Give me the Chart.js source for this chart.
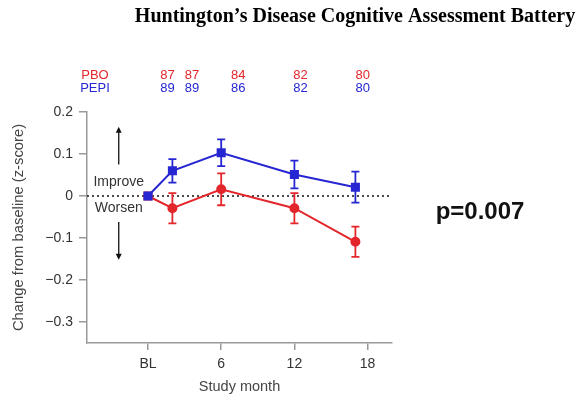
<!DOCTYPE html>
<html>
<head>
<meta charset="utf-8">
<script src="https://cdn.jsdelivr.net/npm/chart.js@4.4.0/dist/chart.umd.min.js"></script>
<style>
  body { margin: 0; background: #fff; }
  canvas { display: block; }
</style>
</head>
<body>
<canvas id="hdChart" width="583" height="399"></canvas>
<script>
// study visits (months) and mean change from baseline
const months = [0, 2, 6, 12, 17];
const pboMean = [0, -0.029, 0.016, -0.029, -0.109];
const pboErr = [0, 0.036, 0.038, 0.036, 0.036];
const pepiMean = [0, 0.06, 0.103, 0.051, 0.021];
const pepiErr = [0, 0.028, 0.032, 0.033, 0.037];

// number of subjects shown above the plot
const countMonths = [1.6, 3.6, 7.4, 12.5, 17.6];
const pboCounts = [87, 87, 84, 82, 80];
const pepiCounts = [89, 89, 86, 82, 80];

const xTicks = [0, 6, 12, 18];
const xTickLabels = ['BL', '6', '12', '18'];
const yTicks = [0.2, 0.1, 0, -0.1, -0.2, -0.3];
const yTickLabels = ['0.2', '0.1', '0', '\u22120.1', '\u22120.2', '\u22120.3'];

const RED = '#e3262b';
const BLUE = '#2626d2';
const SANS = "'Liberation Sans', Arial, sans-serif";

function toPoints(ys) {
  return months.map((m, i) => ({ x: m, y: ys[i] }));
}

// dotted zero line + error bars, under the markers
const errorBars = {
  id: 'errorBars',
  beforeDatasetsDraw(chart) {
    const { ctx, chartArea, scales: { x, y } } = chart;
    ctx.save();
    ctx.strokeStyle = '#111';
    ctx.lineWidth = 1.5;
    ctx.setLineDash([2, 3]);
    ctx.beginPath();
    ctx.moveTo(chartArea.left, y.getPixelForValue(0));
    ctx.lineTo(chartArea.right, y.getPixelForValue(0));
    ctx.stroke();
    ctx.setLineDash([]);

    const sets = [[pepiMean, pepiErr, BLUE], [pboMean, pboErr, RED]];
    sets.forEach(([mean, err, color]) => {
      ctx.strokeStyle = color;
      ctx.lineWidth = 1.8;
      months.forEach((m, i) => {
        if (!err[i]) return;
        const px = x.getPixelForValue(m);
        const top = y.getPixelForValue(mean[i] + err[i]);
        const bot = y.getPixelForValue(mean[i] - err[i]);
        ctx.beginPath();
        ctx.moveTo(px, top); ctx.lineTo(px, bot);
        ctx.moveTo(px - 4, top); ctx.lineTo(px + 4, top);
        ctx.moveTo(px - 4, bot); ctx.lineTo(px + 4, bot);
        ctx.stroke();
      });
    });
    ctx.restore();
  }
};

// title, subject counts, arrows, p-value
const annotations = {
  id: 'annotations',
  afterDraw(chart) {
    const { ctx, scales: { x, y } } = chart;
    ctx.save();
    ctx.textBaseline = 'middle';
    ctx.textAlign = 'center';

    ctx.fillStyle = '#000';
    ctx.font = "bold 20px 'Liberation Serif', 'Times New Roman', serif";
    ctx.fillText('Huntington\u2019s Disease Cognitive Assessment Battery', 355, 17);

    ctx.font = '13px ' + SANS;
    ctx.fillStyle = RED;
    ctx.fillText('PBO', 95, 75);
    ctx.fillStyle = BLUE;
    ctx.fillText('PEPI', 95, 88);
    countMonths.forEach((m, i) => {
      const px = x.getPixelForValue(m);
      ctx.fillStyle = RED;
      ctx.fillText(String(pboCounts[i]), px, 75);
      ctx.fillStyle = BLUE;
      ctx.fillText(String(pepiCounts[i]), px, 88);
    });

    // improve / worsen arrows
    const ax = x.getPixelForValue(-2.4);
    ctx.fillStyle = '#333';
    ctx.font = '14px ' + SANS;
    ctx.fillText('Improve', ax, y.getPixelForValue(0.034));
    ctx.fillText('Worsen', ax, y.getPixelForValue(-0.029));
    ctx.strokeStyle = '#222';
    ctx.fillStyle = '#111';
    ctx.lineWidth = 1.4;
    [[0.075, 0.165], [-0.062, -0.152]].forEach(([from, to]) => {
      const y0 = y.getPixelForValue(from);
      const y1 = y.getPixelForValue(to);
      const dir = y1 < y0 ? 1 : -1;
      ctx.beginPath();
      ctx.moveTo(ax, y0); ctx.lineTo(ax, y1 + dir * 5);
      ctx.stroke();
      ctx.beginPath();
      ctx.moveTo(ax, y1);
      ctx.lineTo(ax - 3, y1 + dir * 6);
      ctx.lineTo(ax + 3, y1 + dir * 6);
      ctx.closePath();
      ctx.fill();
    });

    ctx.fillStyle = '#111';
    ctx.font = 'bold 24px ' + SANS;
    ctx.fillText('p=0.007', 480, 212);
    ctx.restore();
  }
};

const ctx = document.getElementById('hdChart').getContext('2d');
new Chart(ctx, {
  type: 'line',
  data: {
    datasets: [
      {
        label: 'PEPI',
        data: toPoints(pepiMean),
        borderColor: BLUE,
        backgroundColor: BLUE,
        borderWidth: 2,
        pointStyle: 'rect',
        pointRadius: 5,
        pointHoverRadius: 5,
        tension: 0
      },
      {
        label: 'PBO',
        data: toPoints(pboMean),
        borderColor: RED,
        backgroundColor: RED,
        borderWidth: 2,
        pointStyle: ['rect', 'circle', 'circle', 'circle', 'circle'],
        pointRadius: [5, 4, 4, 4, 4],
        pointHoverRadius: 4,
        tension: 0
      }
    ]
  },
  options: {
    responsive: false,
    animation: false,
    layout: { padding: { top: 112, right: 191, left: 0, bottom: 0 } },
    plugins: {
      legend: { display: false },
      tooltip: { enabled: false }
    },
    scales: {
      x: {
        type: 'linear',
        min: -5,
        max: 20,
        afterFit(scale) { scale.height = 56; },
        afterBuildTicks(scale) { scale.ticks = xTicks.map(v => ({ value: v })); },
        border: { color: '#999', width: 1.5 },
        grid: { drawOnChartArea: false, color: '#999', lineWidth: 1.5, tickLength: 7 },
        ticks: {
          color: '#333',
          padding: 6,
          maxRotation: 0,
          autoSkip: false,
          font: { family: SANS, size: 14 },
          callback: (v, i) => xTickLabels[i]
        },
        title: {
          display: true,
          text: 'Study month',
          color: '#444',
          padding: { top: 0, bottom: 3 },
          font: { family: SANS, size: 14.5 }
        }
      },
      y: {
        min: -0.35,
        max: 0.2,
        afterFit(scale) { scale.width = 87; },
        afterBuildTicks(scale) { scale.ticks = yTicks.map(v => ({ value: v })); },
        border: { color: '#999', width: 1.5 },
        grid: { drawOnChartArea: false, color: '#999', lineWidth: 1.5, tickLength: 8 },
        ticks: {
          color: '#333',
          padding: 6,
          autoSkip: false,
          font: { family: SANS, size: 14 },
          callback: (v, i) => yTickLabels[i]
        },
        title: {
          display: true,
          text: 'Change from baseline (z-score)',
          color: '#444',
          padding: { top: 10, bottom: 0 },
          font: { family: SANS, size: 14.8 }
        }
      }
    }
  },
  plugins: [errorBars, annotations]
});
</script>
</body>
</html>
